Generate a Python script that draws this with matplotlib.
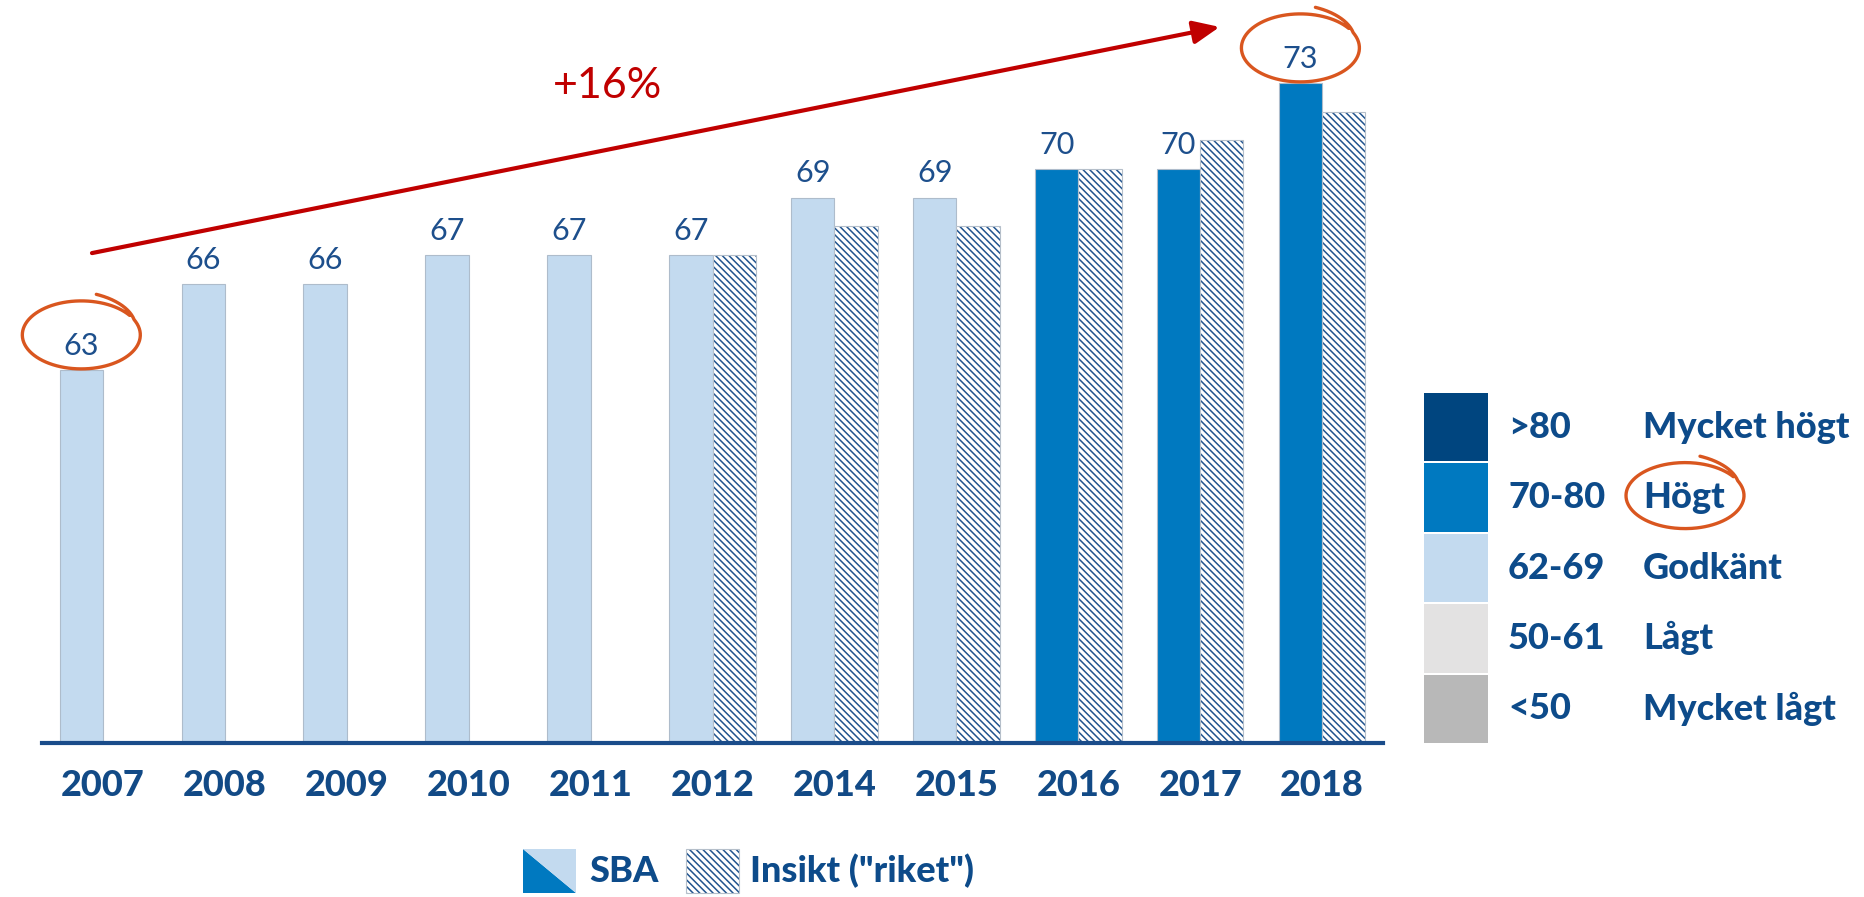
import numpy as np
import matplotlib
matplotlib.use('Agg')
import matplotlib.pyplot as plt
from matplotlib.patches import Rectangle, Polygon

# data
years = ['2007', '2008', '2009', '2010', '2011', '2012', '2014', '2015', '2016', '2017', '2018']
sba = [63, 66, 66, 67, 67, 67, 69, 69, 70, 70, 73]
insikt = [None, None, None, None, None, 67, 68, 68, 70, 71, 72]

# betygsskala
band_low = [81, 70, 62, 50, 0]
band_range = ['>80', '70-80', '62-69', '50-61', '<50']
band_name = ['Mycket högt', 'Högt', 'Godkänt', 'Lågt', 'Mycket lågt']
band_color = ['#00457F', '#0079C0', '#C3DAEF', '#E3E2E2', '#B8B8B8']

NAVY = '#0D4B8A'
HATCH_C = '#21548F'
HATCH = '\\\\\\\\\\'
RING_C = '#D9561F'
RED = '#C00000'

plt.rcParams['font.family'] = ['Lato', 'DejaVu Sans']
plt.rcParams['hatch.linewidth'] = 1.1


def band_of(v):
    for lo, c in zip(band_low, band_color):
        if v >= lo:
            return c
    return band_color[-1]


fig = plt.figure(figsize=(18.65, 8.97), dpi=100)
W, H = 1865, 897
ax = fig.add_axes([42 / W, 154 / H, 1341 / W, 717.5 / H])

x = np.arange(len(years))
w = 0.355

ax.bar(x - w / 2, sba, w, color=[band_of(v) for v in sba], edgecolor='#AEBCCB', linewidth=0.8)

idx = [i for i, v in enumerate(insikt) if v is not None]
ins_vals = [insikt[i] for i in idx]
ax.bar(x[idx] + w / 2, ins_vals, w, color='white', edgecolor=HATCH_C, hatch=HATCH, linewidth=0)
ax.bar(x[idx] + w / 2, ins_vals, w, fill=False, edgecolor='#B5BFCA', linewidth=0.8)

for i, v in enumerate(sba):
    ax.annotate(str(v), (x[i] - w / 2, v), xytext=(0, 11), textcoords='offset points',
                ha='center', va='baseline', fontsize=22, color='#1D4F8C')

ax.set_xlim(-0.5, len(years) - 0.5)
ax.set_ylim(50, 75)
ax.set_xticks(x, years)
ax.set_yticks([])
ax.tick_params(axis='x', length=0, pad=19, labelsize=26, labelcolor='#124A86')
for lab in ax.get_xticklabels():
    lab.set_fontweight('black')
for s in ['top', 'left', 'right']:
    ax.spines[s].set_visible(False)
ax.spines['bottom'].set_color('#1A4C8A')
ax.spines['bottom'].set_linewidth(3)

# trendpil
pct = round((sba[-1] - sba[0]) / sba[0] * 100)
ax.annotate('', xy=(9.16, 74.95), xytext=(-0.09, 67.07), annotation_clip=False,
            arrowprops=dict(arrowstyle='-|>,head_length=0.8,head_width=0.35', color=RED,
                            lw=3, mutation_scale=20, shrinkA=0, shrinkB=0))
ax.text(4.14, 72.9, f'+{pct}%', fontsize=31, color=RED, ha='center', va='center')

# overlay i pixlar
ov = fig.add_axes([0, 0, 1, 1], zorder=5)
ov.set_xlim(0, W)
ov.set_ylim(0, H)
ov.axis('off')
ov.patch.set_alpha(0)


def ring(cx, cy, rw, rh):
    # handritad ring, slutar med en liten svans uppåt höger
    t = np.linspace(0, 2 * np.pi + 0.75, 300)
    a0 = np.deg2rad(35)
    grow = 1 + 0.22 * np.clip((t - 2 * np.pi + 0.15) / 0.9, 0, 1)
    ov.plot(cx + rw / 2 * grow * np.cos(a0 + t), cy + rh / 2 * grow * np.sin(a0 + t),
            color=RING_C, lw=2.4, solid_capstyle='round')


for i in [0, len(sba) - 1]:
    px, py = ax.transData.transform((x[i] - w / 2, sba[i]))
    ring(px, py + 35, 118, 68)

# betygslegend
top = 392
step = 70.4
for k in range(len(band_range)):
    y0 = H - (top + (k + 1) * step) + 1
    ov.add_patch(Rectangle((1424, y0), 64, step - 2, color=band_color[k], lw=0))
    yc = H - (top + (k + 0.5) * step)
    ov.text(1508, yc, band_range[k], fontsize=26, fontweight='black', color=NAVY, va='center')
    ov.text(1643, yc, band_name[k], fontsize=26, fontweight='black', color=NAVY, va='center')
    if band_name[k] == 'Högt':
        ring(1685, yc + 2, 118, 66)

# serielegend
sy0, sy1 = H - 893, H - 849
ov.add_patch(Polygon([(523, sy0), (523, sy1), (576, sy0)], color=band_color[1], lw=0))
ov.add_patch(Polygon([(523, sy1), (576, sy1), (576, sy0)], color=band_color[2], lw=0))
ov.text(589, H - 871, 'SBA', fontsize=26, fontweight='black', color=NAVY, va='center')
ov.add_patch(Rectangle((686, sy0), 53, 44, facecolor='white', edgecolor=HATCH_C, hatch=HATCH, lw=0))
ov.add_patch(Rectangle((686, sy0), 53, 44, fill=False, edgecolor='#B5BFCA', lw=0.8))
ov.text(750, H - 871, 'Insikt ("riket")', fontsize=26, fontweight='black', color=NAVY, va='center')

fig.savefig('out.png', dpi=100)
